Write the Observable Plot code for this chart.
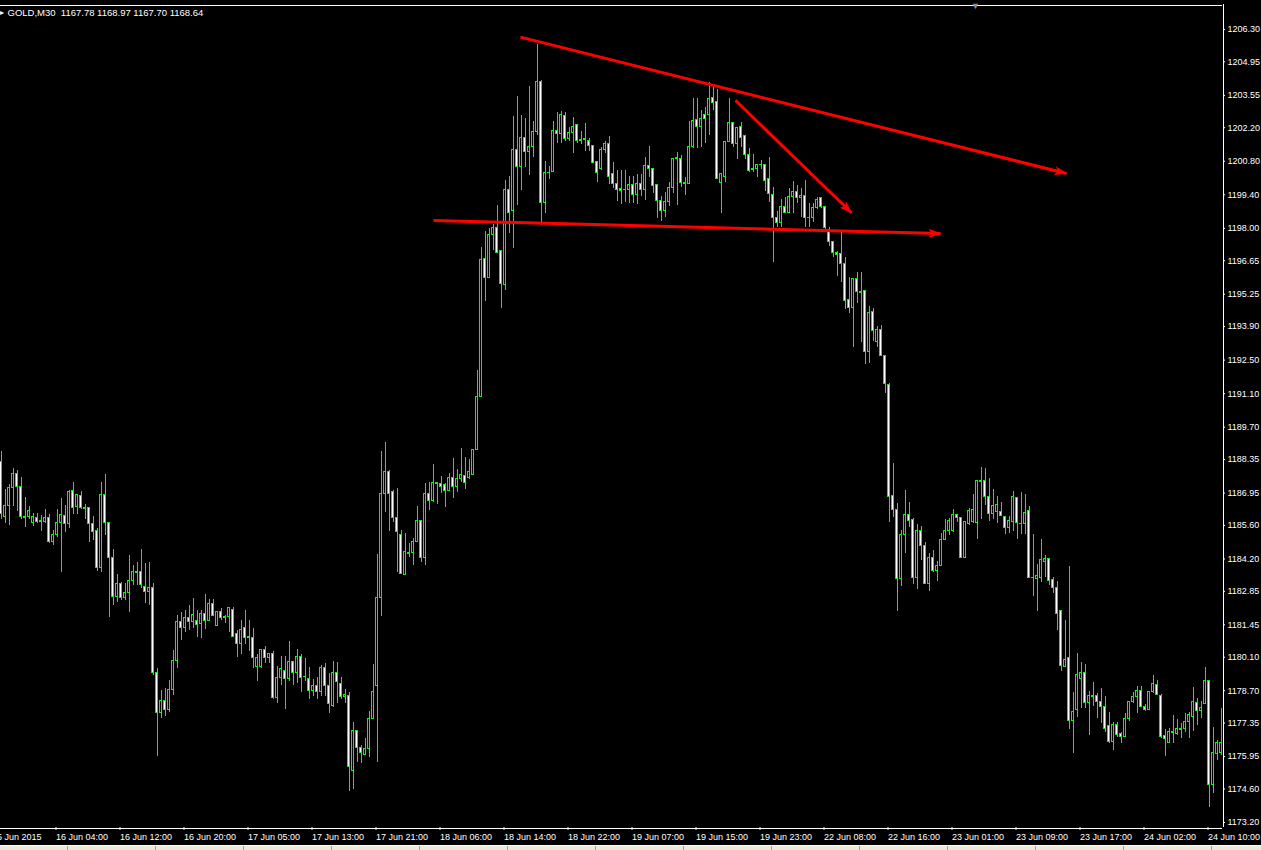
<!DOCTYPE html>
<html>
<head>
<meta charset="utf-8">
<script src="https://cdn.jsdelivr.net/npm/d3@7"></script>
<script src="https://cdn.jsdelivr.net/npm/@observablehq/plot@0.6"></script>
<style>
  html, body { margin: 0; padding: 0; background: #000; overflow: hidden; }
  #wrap { position: relative; width: 1261px; height: 850px; }
  #status { position: absolute; left: 0; top: 845px; width: 1261px; height: 5px; background: #ece9d8; border-top: 1px solid #fff; box-sizing: border-box;
            background-image: repeating-linear-gradient(90deg, transparent 0 67px, #9d9d9d 67px 68px, transparent 68px 88px); }
</style>
</head>
<body>
<div id="wrap"><div id="status"></div></div>
<script>
// ---- header ----
const symbolLabel = "GOLD,M30";
const headerPrices = [1167.78, 1168.97, 1167.70, 1168.64];

// ---- price axis tick labels ----
const yTicks = [1206.30,1204.95,1203.55,1202.20,1200.80,1199.40,1198.00,1196.65,1195.25,1193.90,1192.50,1191.10,1189.70,1188.35,1186.95,1185.60,1184.20,1182.85,1181.45,1180.10,1178.70,1177.35,1175.95,1174.60,1173.20];

// ---- time axis: bar index of each label, and label text ----
const tickBars = [-2,14,30,46,62,78,94,110,126,142,158,174,190,206,222,238,254,270,286,302];
const tickLabels = ["15 Jun 2015","16 Jun 04:00","16 Jun 12:00","16 Jun 20:00","17 Jun 05:00","17 Jun 13:00","17 Jun 21:00","18 Jun 06:00","18 Jun 14:00","18 Jun 22:00","19 Jun 07:00","19 Jun 15:00","19 Jun 23:00","22 Jun 08:00","22 Jun 16:00","23 Jun 01:00","23 Jun 09:00","23 Jun 17:00","24 Jun 02:00","24 Jun 10:00"];

// ---- OHLC, one value per 30-minute bar ----
const open = [
1188.23,1185.97,1186.39,1187.15,1187.76,1187.19,1185.97,1185.97,1185.68,1185.89,
1185.77,1185.73,1185.93,1184.89,1185.18,1185.68,1186.01,1185.64,1187.02,1186.35,
1186.81,1186.31,1186.31,1185.64,1185.35,1183.84,1186.85,1185.68,1184.22,1182.63,
1183.17,1182.59,1182.76,1183.26,1183.64,1183.64,1183.05,1182.84,1182.97,1179.46,
1177.79,1178.29,1177.91,1178.71,1179.96,1181.55,1181.30,1181.72,1181.55,1181.59,
1181.50,1181.92,1181.63,1182.34,1181.42,1181.97,1181.76,1181.76,1182.09,1181.05,
1180.67,1181.30,1180.96,1180.92,1179.67,1179.71,1180.42,1180.05,1180.25,1178.38,
1179.25,1179.54,1179.17,1179.88,1179.46,1180.09,1179.29,1179.21,1178.67,1178.88,
1178.63,1179.63,1178.88,1178.08,1179.46,1179.00,1178.42,1178.46,1175.33,1177.00,
1176.33,1176.00,1176.25,1177.50,1178.88,1182.59,1186.93,1187.85,1186.98,1185.93,
1185.22,1183.55,1184.43,1184.43,1184.89,1185.77,1184.26,1186.93,1186.60,1187.35,
1187.31,1187.27,1187.02,1187.56,1187.19,1187.52,1187.68,1187.56,1187.72,1188.73,
1190.98,1196.70,1195.91,1197.74,1198.00,1197.04,1195.62,1199.58,1198.74,1201.25,
1200.54,1201.75,1201.17,1201.38,1202.04,1204.09,1199.04,1200.33,1200.37,1202.08,
1201.92,1202.67,1201.71,1202.00,1202.33,1201.67,1201.71,1201.63,1201.42,1200.75,
1200.46,1201.29,1201.50,1200.25,1199.87,1199.66,1199.62,1199.58,1199.79,1199.41,
1199.87,1199.62,1200.62,1200.46,1199.79,1199.16,1198.74,1199.08,1199.70,1200.88,
1200.88,1199.91,1199.87,1201.38,1202.54,1202.25,1202.71,1202.71,1203.42,1203.29,
1199.91,1200.16,1201.59,1202.38,1201.50,1202.21,1201.84,1201.08,1200.46,1200.46,
1200.66,1200.66,1200.08,1199.41,1198.45,1198.24,1198.87,1198.62,1199.29,1199.50,
1199.25,1199.33,1198.45,1198.45,1198.83,1199.25,1198.91,1197.91,1197.41,1196.99,
1196.91,1196.53,1194.99,1194.66,1195.87,1195.33,1195.37,1192.82,1194.49,1193.24,
1193.74,1192.69,1191.48,1186.81,1186.26,1183.38,1185.18,1186.05,1185.81,1183.42,
1185.35,1184.72,1183.17,1184.22,1183.68,1183.89,1185.01,1185.35,1185.35,1186.05,
1185.93,1184.26,1185.64,1185.73,1185.68,1187.44,1187.44,1186.77,1186.09,1186.18,
1186.18,1185.97,1185.48,1185.73,1186.73,1185.64,1185.64,1186.22,1183.42,1183.38,
1183.42,1184.09,1184.18,1183.34,1182.97,1182.01,1179.71,1180.05,1177.42,1177.91,
1179.21,1179.46,1178.17,1178.46,1178.46,1178.21,1178.00,1177.21,1176.54,1177.25,
1176.91,1176.75,1177.54,1178.21,1178.42,1178.67,1178.04,1177.91,1178.63,1178.92,
1178.50,1176.79,1176.50,1176.96,1176.91,1177.12,1177.12,1177.38,1177.62,1178.17,
1177.87,1178.13,1179.09,1174.78,1176.04,1176.08];
const high = [
1188.69,1187.10,1187.31,1187.98,1187.89,1187.60,1186.77,1186.39,1186.09,1186.09,
1186.01,1186.26,1186.05,1185.39,1186.26,1186.73,1186.43,1187.06,1187.40,1186.89,
1187.02,1186.47,1186.31,1185.97,1185.48,1187.40,1187.72,1185.68,1184.59,1183.55,
1183.21,1183.17,1184.34,1183.93,1184.05,1184.59,1184.01,1184.05,1183.17,1179.63,
1178.71,1178.79,1179.13,1180.38,1181.84,1181.97,1182.05,1182.26,1182.55,1182.05,
1182.05,1182.72,1182.51,1182.51,1181.97,1182.14,1181.84,1182.18,1182.18,1181.21,
1181.63,1182.05,1181.63,1181.30,1180.21,1180.42,1180.55,1180.25,1180.34,1179.71,
1180.13,1180.13,1180.75,1179.92,1180.42,1180.21,1180.05,1179.67,1179.17,1179.25,
1179.75,1179.84,1179.42,1179.92,1179.88,1179.25,1178.75,1178.63,1177.38,1177.00,
1176.42,1176.71,1177.83,1179.80,1184.38,1188.69,1189.06,1187.89,1187.06,1187.15,
1185.39,1185.26,1184.84,1185.05,1186.39,1185.81,1187.35,1187.40,1188.14,1187.35,
1187.64,1187.35,1187.76,1188.39,1187.93,1188.81,1188.43,1188.35,1188.77,1192.07,
1197.20,1197.87,1198.00,1198.16,1198.95,1197.04,1200.00,1200.16,1202.67,1203.50,
1202.71,1202.58,1203.92,1202.46,1205.67,1204.17,1200.79,1200.58,1202.46,1202.83,
1202.88,1202.83,1202.21,1202.63,1202.33,1202.04,1202.38,1201.75,1201.42,1200.75,
1201.38,1201.63,1201.84,1200.75,1200.41,1200.41,1200.41,1200.16,1200.16,1200.25,
1200.25,1200.96,1201.42,1200.46,1199.79,1199.33,1199.50,1199.91,1200.92,1201.17,
1201.05,1200.12,1202.46,1203.42,1203.42,1202.92,1203.05,1204.09,1203.88,1203.80,
1200.29,1201.63,1203.42,1202.42,1202.21,1202.42,1201.84,1201.33,1201.08,1200.66,
1200.83,1200.66,1200.96,1199.70,1198.70,1199.20,1199.29,1199.66,1199.96,1199.79,
1199.66,1200.00,1199.04,1199.04,1199.29,1199.29,1198.91,1198.04,1197.41,1197.04,
1197.83,1196.78,1195.95,1195.87,1196.16,1196.16,1195.37,1194.74,1194.66,1193.91,
1193.95,1192.69,1191.52,1188.19,1186.51,1185.39,1187.06,1186.56,1185.89,1185.64,
1185.56,1184.89,1184.43,1184.55,1184.09,1185.26,1185.84,1185.89,1186.26,1186.05,
1185.93,1185.73,1186.31,1186.89,1187.44,1188.02,1187.98,1187.56,1187.10,1186.81,
1186.56,1185.97,1185.97,1187.02,1186.73,1186.98,1186.89,1186.39,1185.22,1183.97,
1185.01,1184.34,1184.18,1183.42,1183.26,1182.05,1181.63,1183.89,1178.63,1180.25,
1179.88,1179.80,1178.67,1179.05,1178.59,1178.79,1178.46,1177.79,1177.38,1177.38,
1176.96,1177.75,1178.25,1178.63,1178.88,1178.88,1178.13,1178.63,1179.34,1179.13,
1178.54,1177.08,1177.12,1177.67,1177.50,1177.33,1177.75,1177.79,1178.83,1178.38,
1178.25,1179.67,1179.13,1177.17,1176.62,1177.96];
const low = [
1185.84,1185.68,1185.60,1186.39,1186.18,1185.84,1185.52,1185.84,1185.56,1185.68,
1185.35,1185.68,1184.84,1184.76,1185.10,1183.64,1185.31,1185.48,1186.05,1186.05,
1186.26,1185.84,1184.89,1184.97,1183.68,1183.64,1185.18,1181.76,1182.26,1182.39,
1182.47,1182.47,1181.97,1183.09,1183.09,1182.97,1182.34,1182.26,1179.34,1175.96,
1177.54,1177.62,1177.79,1178.50,1179.63,1180.80,1181.13,1181.21,1181.30,1180.92,
1180.88,1181.25,1181.59,1181.80,1181.42,1181.63,1181.50,1181.13,1180.96,1180.09,
1180.21,1180.63,1180.34,1179.63,1179.09,1179.63,1179.84,1179.84,1178.33,1178.17,
1178.92,1177.91,1179.09,1178.92,1179.00,1178.63,1179.09,1178.33,1178.46,1178.33,
1178.46,1178.46,1177.75,1178.00,1178.17,1178.33,1178.17,1174.50,1174.58,1175.71,
1175.66,1176.00,1175.92,1177.50,1175.71,1181.80,1186.13,1185.35,1185.73,1183.64,
1183.55,1183.51,1184.26,1183.93,1184.89,1184.05,1183.93,1186.22,1186.56,1186.47,
1186.93,1186.35,1187.02,1186.73,1186.98,1187.40,1187.10,1187.52,1187.68,1188.73,
1190.98,1194.95,1195.91,1197.08,1196.95,1194.66,1195.41,1197.78,1197.16,1198.95,
1199.58,1200.54,1200.20,1200.96,1201.88,1198.12,1198.62,1200.04,1200.33,1201.54,
1201.54,1201.63,1201.63,1201.13,1201.54,1201.50,1201.21,1201.21,1200.71,1199.91,
1200.41,1201.13,1199.83,1199.66,1199.12,1198.99,1199.08,1199.04,1199.04,1198.99,
1199.33,1199.16,1200.12,1199.45,1198.41,1198.29,1198.45,1198.91,1199.45,1198.95,
1199.70,1199.37,1199.87,1201.33,1201.33,1201.38,1201.54,1201.88,1202.92,1200.04,
1198.62,1199.91,1201.59,1201.38,1200.88,1201.38,1200.88,1200.33,1200.33,1200.12,
1200.46,1199.54,1199.08,1196.58,1198.04,1198.04,1198.62,1198.62,1198.62,1199.04,
1198.45,1198.04,1198.04,1198.24,1198.79,1198.83,1197.95,1197.24,1196.78,1196.00,
1195.74,1194.61,1194.45,1193.03,1194.86,1193.24,1192.32,1192.36,1193.28,1193.03,
1192.69,1191.11,1185.73,1185.93,1182.01,1183.05,1184.43,1185.52,1183.13,1182.92,
1184.14,1183.13,1182.84,1183.64,1183.26,1183.89,1185.01,1185.18,1185.31,1185.73,
1184.26,1184.26,1185.60,1185.68,1185.01,1185.84,1186.43,1185.77,1185.84,1185.68,
1185.97,1185.22,1185.26,1185.35,1185.01,1185.22,1185.22,1183.38,1182.63,1182.01,
1183.21,1183.42,1183.09,1182.76,1181.21,1179.50,1179.67,1177.08,1176.08,1177.58,
1177.96,1177.96,1176.83,1178.04,1177.54,1177.33,1176.96,1176.50,1176.21,1176.75,
1176.50,1176.75,1177.42,1178.17,1177.75,1178.00,1177.83,1177.91,1178.59,1178.50,
1176.71,1175.96,1176.50,1176.50,1176.83,1176.71,1176.96,1176.71,1176.99,1177.25,
1177.54,1178.13,1173.83,1174.41,1175.79,1176.00];
const close = [
1186.09,1186.39,1187.15,1187.76,1187.19,1185.97,1185.93,1186.22,1185.97,1185.73,
1185.73,1185.93,1184.89,1185.22,1185.68,1186.05,1185.64,1186.98,1186.31,1186.89,
1186.31,1186.29,1185.64,1185.31,1183.84,1186.85,1185.68,1184.22,1182.63,1183.17,
1182.59,1182.76,1183.26,1183.64,1183.62,1183.13,1182.80,1182.97,1179.46,1177.79,
1178.29,1177.91,1178.71,1179.96,1181.55,1181.30,1181.72,1181.55,1181.88,1181.46,
1181.92,1181.63,1182.34,1181.80,1181.97,1181.72,1181.74,1182.14,1180.96,1180.63,
1181.25,1180.88,1180.88,1180.05,1180.05,1180.42,1180.05,1180.25,1178.38,1179.25,
1179.59,1179.17,1179.88,1179.46,1180.09,1179.25,1179.27,1178.67,1178.88,1178.63,
1179.63,1178.88,1178.13,1179.46,1179.05,1178.42,1178.54,1175.50,1177.00,1176.33,
1176.08,1176.25,1177.50,1178.63,1182.59,1186.93,1187.81,1186.93,1185.89,1185.31,
1183.59,1184.51,1184.41,1184.89,1185.77,1184.26,1186.93,1186.60,1187.35,1187.33,
1187.19,1187.02,1187.56,1187.19,1187.52,1187.72,1187.35,1187.81,1188.73,1190.98,
1196.66,1195.91,1197.74,1198.00,1196.99,1195.66,1199.58,1198.66,1201.25,1200.54,
1201.75,1201.17,1201.38,1202.04,1204.09,1199.04,1200.33,1200.29,1202.08,1201.92,
1202.75,1201.71,1202.00,1202.21,1201.63,1201.65,1201.69,1201.42,1200.71,1200.33,
1201.29,1201.54,1200.16,1199.87,1199.62,1199.54,1199.60,1199.79,1199.41,1199.87,
1199.62,1200.62,1200.46,1199.75,1199.16,1198.74,1199.08,1199.70,1200.88,1200.92,
1199.91,1199.83,1201.38,1202.50,1202.21,1202.58,1202.58,1203.38,1203.25,1200.08,
1200.25,1201.59,1202.38,1201.54,1202.17,1201.79,1201.08,1200.41,1200.44,1200.66,
1200.64,1199.96,1199.45,1198.45,1198.24,1198.87,1198.66,1199.29,1199.50,1199.25,
1199.33,1198.45,1198.43,1198.83,1199.20,1198.87,1198.00,1197.41,1196.99,1196.87,
1196.53,1194.95,1194.66,1195.87,1195.33,1195.31,1192.82,1194.45,1193.70,1193.74,
1192.69,1191.52,1186.77,1186.26,1183.38,1185.18,1186.05,1185.77,1183.42,1185.35,
1184.72,1183.17,1184.22,1183.68,1183.89,1185.01,1185.35,1185.77,1186.05,1185.93,
1184.26,1185.73,1186.22,1186.26,1187.44,1187.40,1186.77,1186.09,1186.43,1186.47,
1186.01,1185.48,1185.77,1186.77,1185.68,1185.66,1186.13,1183.42,1183.40,1183.47,
1184.14,1184.18,1183.26,1182.97,1181.92,1179.75,1180.00,1177.42,1177.83,1179.34,
1179.46,1178.17,1178.46,1178.44,1178.21,1178.00,1177.12,1176.58,1177.25,1176.87,
1176.75,1177.54,1178.25,1178.42,1178.67,1178.00,1177.91,1178.63,1179.00,1178.54,
1176.75,1176.67,1176.96,1176.94,1177.12,1177.08,1177.38,1177.67,1178.21,1177.87,
1177.96,1179.09,1174.78,1176.08,1176.50,1176.50];

// ---- hand-drawn trend lines (bar index, price) ----
const lineStartBar = [129.875, 183.625, 108.125];
const lineStartPrice = [1205.98, 1203.34, 1198.33];
const lineEndBar = [266.375, 212.625, 234.875];
const lineEndPrice = [1200.29, 1198.65, 1197.785];

// chart-shift marker position (bar index)
const shiftMarkerBar = 243.6;

// ---- layout constants ----
const W = 1261, H = 850, MT = 4, MR = 39, MB = 23, ML = 0;
const lastBar = open.length - 1;
const xDomain = [-0.125, lastBar + 0.375];
const yDomain = [1172.991, 1207.343];
const pxPerBar = (W - MR - ML) / (xDomain[1] - xDomain[0]);
const pxPerPrice = (H - MT - MB) / (yDomain[1] - yDomain[0]);

// ---- build tables ----
const bars = open.map((o, i) => ({i, open: o, high: high[i], low: low[i], close: close[i]}));
const trendLines = lineStartBar.map((b, k) => {
  const dx = (lineEndBar[k] - b) * pxPerBar;
  const dy = -(lineEndPrice[k] - lineStartPrice[k]) * pxPerPrice;
  return {x1: b, y1: lineStartPrice[k], x2: lineEndBar[k], y2: lineEndPrice[k], angle: Math.atan2(dx, -dy) * 180 / Math.PI};
});
const xLabel = new Map(tickBars.map((b, k) => [b, tickLabels[k]]));
const downBodies = bars.filter(d => d.open - d.close >= 0.06);
const upBodies = bars.filter(d => d.close - d.open >= 0.06);

// arrowhead symbol: tip at the origin, pointing up
const arrowHead = {draw(ctx) { ctx.moveTo(0, -1); ctx.lineTo(4.5, 12); ctx.lineTo(0, 9); ctx.lineTo(-4.5, 12); ctx.closePath(); }};

const GREEN = "#00ff00";
const AXIS_FONT = 9;
const HEAD_FONT = 9.5;
const chart = Plot.plot({
  width: W,
  height: H,
  marginTop: MT,
  marginRight: MR,
  marginBottom: MB,
  marginLeft: ML,
  style: {background: "#000", color: "#fff", fontFamily: "'Liberation Sans', Arial, sans-serif", fontSize: AXIS_FONT + "px"},
  x: {type: "linear", domain: xDomain, axis: null},
  y: {domain: yDomain, axis: null},
  marks: [
    // wicks
    Plot.ruleX(bars, {x: "i", y1: "low", y2: "high", stroke: GREEN, strokeWidth: 1, clip: true, shapeRendering: "crispEdges"}),
    // body outline
    Plot.rect(bars, {x1: d => d.i - 0.375, x2: d => d.i + 0.375, y1: "open", y2: "close", fill: GREEN, insetTop: -0.5, insetBottom: -0.5, clip: true, shapeRendering: "crispEdges"}),
    // body interior: white = bear, black = bull
    Plot.rect(downBodies, {x1: d => d.i - 0.125, x2: d => d.i + 0.125, y1: "open", y2: "close", fill: "#ffffff", insetTop: 0.5, insetBottom: 0.5, clip: true, shapeRendering: "crispEdges"}),
    Plot.rect(upBodies, {x1: d => d.i - 0.125, x2: d => d.i + 0.125, y1: "open", y2: "close", fill: "#000000", insetTop: 0.5, insetBottom: 0.5, clip: true, shapeRendering: "crispEdges"}),
    // trend lines with filled arrowheads
    Plot.link(trendLines, {x1: "x1", y1: "y1", x2: "x2", y2: "y2", stroke: "#ff0000", strokeWidth: 3, clip: true}),
    Plot.dot(trendLines, {x: "x2", y: "y2", symbol: arrowHead, rotate: "angle", fill: "#ff0000", stroke: "none", r: 6, clip: true}),
    // borders
    Plot.ruleX([lastBar + 0.5], {stroke: "#ffffff", shapeRendering: "crispEdges"}),
    Plot.ruleY([1172.97], {stroke: "#ffffff", shapeRendering: "crispEdges"}),
    Plot.ruleY([1207.32], {stroke: "#ffffff", shapeRendering: "crispEdges"}),
    // axes
    Plot.axisY(yTicks, {anchor: "right", tickSize: 2, tickPadding: 3, tickFormat: d => d.toFixed(2), color: "#ffffff", fontSize: AXIS_FONT, label: null}),
    Plot.axisX(tickBars, {anchor: "bottom", tickSize: 3, tickPadding: 3, tickFormat: d => xLabel.get(d), textAnchor: "start", dx: -1, color: "#ffffff", fontSize: AXIS_FONT, label: null}),
    // header
    Plot.text(["▸"], {frameAnchor: "top-left", dx: -1, dy: 5, lineAnchor: "top", textAnchor: "start", fill: "#ffffff", fontSize: 8}),
    Plot.text([`${symbolLabel}\u00a0\u00a0${headerPrices.map(p => p.toFixed(2)).join(" ")}`], {frameAnchor: "top-left", dx: 7, dy: 5, lineAnchor: "top", textAnchor: "start", fill: "#ffffff", fontSize: HEAD_FONT}),
    // chart shift marker
    Plot.text(["▼"], {x: shiftMarkerBar, frameAnchor: "top", lineAnchor: "top", dy: -2, fill: "#8c8c8c", fontSize: 9})
  ]
});
document.getElementById("wrap").prepend(chart);
</script>
</body>
</html>
